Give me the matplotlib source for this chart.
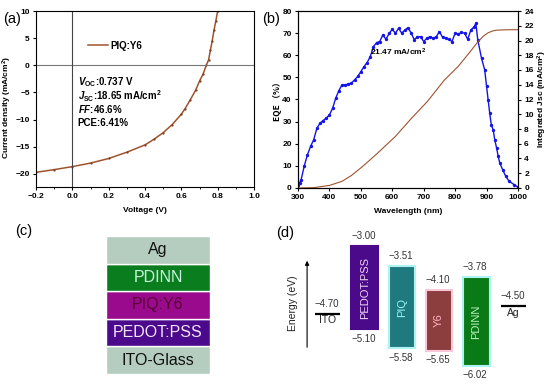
import numpy as np
import matplotlib.pyplot as plt
from matplotlib.ticker import MultipleLocator

plt.rcParams['font.family'] = ['Liberation Sans', 'DejaVu Sans']
plt.rcParams['mathtext.fontset'] = 'custom'
plt.rcParams['mathtext.rm'] = 'Liberation Sans:bold'
plt.rcParams['mathtext.bf'] = 'Liberation Sans:bold'
plt.rcParams['mathtext.it'] = 'Liberation Sans:italic:bold'

# (a) J-V curve
voltage = [-0.2, -0.1, 0.0, 0.1, 0.2, 0.3, 0.4, 0.45, 0.5, 0.55, 0.6, 0.62, 0.65, 0.68,
           0.7, 0.72, 0.737, 0.75, 0.76, 0.77, 0.78, 0.79, 0.80]
current = [-19.7, -19.2, -18.65, -18.0, -17.15, -16.0, -14.65, -13.6, -12.4, -10.9, -9.0,
           -8.0, -6.3, -4.5, -2.9, -1.6, 0.0, 1.0, 2.8, 4.5, 6.5, 8.2, 10.0]

# (b) EQE and integrated Jsc
wl = [300, 305, 310, 320, 330, 340, 350, 360, 370, 380, 390, 400, 410, 420, 430, 440, 450, 460,
      470, 480, 490, 500, 510, 520, 530, 540, 550, 560, 570, 580, 590, 600, 610, 620, 630, 640,
      650, 660, 670, 680, 690, 700, 710, 720, 730, 740, 750, 760, 770, 780, 790, 800, 810, 820,
      830, 840, 850, 860, 866, 872, 884, 894, 900, 905, 910, 915, 921, 926, 932, 937, 942, 951,
      961, 972, 988, 1000]
eqe = [1.5, 2.3, 3.8, 10.0, 15.0, 18.8, 21.8, 27.0, 29.3, 30.5, 31.6, 33.0, 36.0, 40.6, 44.0, 46.6,
       46.6, 47.0, 47.4, 48.9, 50.4, 52.6, 54.9, 56.7, 59.4, 63.9, 65.7, 66.2, 69.2, 67.2, 69.9,
       71.7, 70.0, 72.2, 70.0, 71.4, 72.5, 70.0, 67.0, 68.4, 68.4, 66.2, 67.7, 68.4, 67.7, 68.4,
       70.7, 68.1, 67.7, 67.2, 66.2, 70.0, 69.6, 70.3, 70.0, 67.2, 71.4, 72.8, 74.4, 66.9, 58.6,
       53.4, 45.9, 39.8, 33.8, 28.6, 26.3, 21.8, 18.0, 14.3, 11.3, 8.3, 5.3, 3.0, 1.5, 0.4]
jsc_wl = [300, 350, 400, 440, 470, 505, 550, 610, 660, 711, 765, 810, 850, 872, 890, 905, 920,
          931, 960, 1000]
jsc_int = [0.0, 0.05, 0.35, 0.9, 1.7, 2.9, 4.6, 7.0, 9.4, 11.7, 14.6, 16.5, 18.6, 19.8, 20.6,
           21.05, 21.3, 21.4, 21.45, 21.47]

# (c) device stack, bottom to top
layers = ['ITO-Glass', 'PEDOT:PSS', 'PIQ:Y6', 'PDINN', 'Ag']
layer_colors = ['#b5cdbf', '#4b0a8c', '#9a0a8c', '#0a7d1e', '#b5cdbf']
layer_text = ['#111111', '#f4e4fa', '#5a0035', '#c8f5dc', '#111111']

# (d) energy levels
materials = ['PEDOT:PSS', 'PIQ', 'Y6', 'PDINN']
lumo = [-3.00, -3.51, -4.10, -3.78]
homo = [-5.10, -5.58, -5.65, -6.02]
bar_colors = ['#4a0a8a', '#1f7a80', '#8c3d3d', '#0a7a16']
bar_edges = ['#4a0a8a', '#aef2f2', '#f6c8d8', '#aef2f2']
bar_text = ['#f2d6f2', '#8ff8f8', '#ffb4c4', '#b8f4b8']
electrodes = ['ITO', 'Ag']
work_fn = [-4.70, -4.50]

W, H = 550, 384
fig = plt.figure(figsize=(W / 100, H / 100), dpi=100)


def box(x0, y0, x1, y1):
    return [x0 / W, 1 - y1 / H, (x1 - x0) / W, (y1 - y0) / H]


tick_kw = dict(labelsize=6, width=0.8, length=2.5, direction='out', pad=2)

# ---- (a)
ax = fig.add_axes(box(36, 11, 254, 187))
ax.plot(voltage, current, color='#a0522d', lw=1.1, label='PIQ:Y6')
ax.plot(voltage, current, ls='none', color='#7a3a1a', marker='.', ms=1.2)
ax.axhline(0, color='#777777', lw=0.8)
ax.axvline(0, color='#444444', lw=0.8)
ax.set_xlim(-0.2, 1.0)
ax.set_ylim(-22.4, 10)
ax.xaxis.set_major_locator(MultipleLocator(0.2))
ax.yaxis.set_major_locator(MultipleLocator(5))
ax.xaxis.set_minor_locator(MultipleLocator(0.1))
ax.tick_params(**tick_kw)
ax.tick_params(which='minor', length=1.5, width=0.6)
for lab in ax.get_xticklabels() + ax.get_yticklabels():
    lab.set_fontweight('bold')
ax.set_xlabel('Voltage (V)', fontsize=6, fontweight='bold', labelpad=5)
ax.set_ylabel('Current density (mA/cm$^2$)', fontsize=6, fontweight='bold')
ax.yaxis.set_label_coords(-0.1, 0.45)
ax.legend(loc='upper left', bbox_to_anchor=(0.2, 0.88), frameon=False,
          prop={'size': 7, 'weight': 'bold'}, handlelength=2.0, handletextpad=0.3)
ax.text(0.03, -3.05, r'$\it{V}_{\rm OC}$:0.737 V', fontsize=7, fontweight='bold', va='center')
ax.text(0.03, -5.7, r'$\it{J}_{\rm SC}$:18.65 mA/cm$^2$', fontsize=7, fontweight='bold', va='center')
ax.text(0.03, -8.1, r'$\it{FF}$:46.6%', fontsize=7, fontweight='bold', va='center')
ax.text(0.03, -10.6, 'PCE:6.41%', fontsize=7, fontweight='bold', va='center')
fig.text(3 / W, 1 - 19 / H, '(a)', fontsize=10.5, va='center')

# ---- (b)
bx = fig.add_axes(box(298, 11, 518, 188))
bx.plot(wl, eqe, color='#1414e6', lw=1.0, marker='o', ms=1.4)
bx.set_xlim(300, 1000)
bx.set_ylim(0, 80)
bx.xaxis.set_major_locator(MultipleLocator(100))
bx.yaxis.set_major_locator(MultipleLocator(10))
bx.tick_params(**tick_kw)
bx.set_xlabel('Wavelength (nm)', fontsize=6, fontweight='bold', labelpad=5)
bx.set_ylabel('EQE （%）', fontsize=6, fontweight='bold',
              family=['Noto Sans CJK SC', 'DejaVu Sans'])
bx.yaxis.set_label_coords(-0.075, 0.5)
bx.text(620, 61.5, '21.47 mA/cm$^2$', fontsize=6, fontweight='bold', ha='center', va='center')
bx2 = bx.twinx()
bx2.plot(jsc_wl, jsc_int, color='#a0522d', lw=0.8)
bx2.set_ylim(0, 24)
bx2.yaxis.set_major_locator(MultipleLocator(2))
bx2.tick_params(**tick_kw)
bx2.set_ylabel('Integrated Jsc (mA/cm$^2$)', fontsize=6, fontweight='bold')
bx2.yaxis.set_label_coords(1.08, 0.5)
for lab in bx.get_xticklabels() + bx.get_yticklabels() + bx2.get_yticklabels():
    lab.set_fontweight('bold')
fig.text(262 / W, 1 - 19 / H, '(b)', fontsize=10.5, va='center')

# ---- (c)
cx = fig.add_axes(box(106, 236, 210, 374))
ypos = np.arange(len(layers))
cx.barh(ypos, [1] * len(layers), height=1.0, left=0, color=layer_colors,
        edgecolor='white', linewidth=1.0)
for y, name, tc in zip(ypos, layers, layer_text):
    cx.text(0.5, y, name, color=tc, fontsize=11.5, ha='center', va='center')
cx.set_xlim(0, 1)
cx.set_ylim(-0.5, len(layers) - 0.5)
cx.axis('off')
fig.text(15 / W, 1 - 231 / H, '(c)', fontsize=10.5, va='center')

# ---- (d)
dx = fig.add_axes(box(290, 225, 545, 380))
xpos = np.arange(1, len(materials) + 1)
heights = [l - h for l, h in zip(lumo, homo)]
dx.bar(xpos, heights, bottom=homo, width=0.72, color=bar_colors, edgecolor=bar_edges, linewidth=1.5)
for x, name, lo, hi, tc in zip(xpos, materials, lumo, homo, bar_text):
    dx.text(x, (lo + hi) / 2, name, rotation=90, color=tc, fontsize=8, ha='center', va='center')
    dx.text(x - 0.36, lo + 0.25, '−%.2f' % -lo, fontsize=7, ha='left', va='center', color='#333333')
    dx.text(x - 0.36, hi - 0.23, '−%.2f' % -hi, fontsize=7, ha='left', va='center', color='#333333')
epos = [0, len(materials) + 1]
dx.hlines(work_fn, [p - 0.34 for p in epos], [p + 0.34 for p in epos], color='black', lw=1.6)
for p, name, wf in zip(epos, electrodes, work_fn):
    dx.text(p - 0.34, wf + 0.25, '−%.2f' % -wf, fontsize=7, ha='left', va='center', color='#333333')
    dx.text(p, wf - 0.05, name, fontsize=7.5, ha='center', va='top', color='#222222')
dx.annotate('', xy=(-0.55, -3.30), xytext=(-0.55, -5.62),
            arrowprops=dict(arrowstyle='-|>', color='black', lw=0.8, mutation_scale=6))
dx.text(-0.93, -4.44, 'Energy (eV)', rotation=90, fontsize=7.5, ha='center', va='center', color='#222222')
dx.set_xlim(-1.01, 5.85)
dx.set_ylim(-6.375, -2.47)
dx.axis('off')
fig.text(276 / W, 1 - 233 / H, '(d)', fontsize=10.5, va='center')

fig.savefig('out.png', dpi=100)
